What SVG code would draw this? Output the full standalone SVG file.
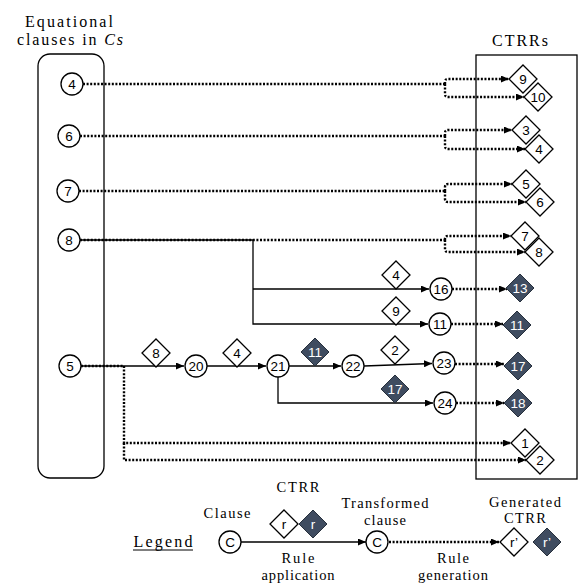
<svg xmlns="http://www.w3.org/2000/svg" width="578" height="586" viewBox="0 0 578 586">
<defs>
<marker id="ah" markerWidth="8" markerHeight="7" refX="8" refY="3.5" orient="auto" markerUnits="userSpaceOnUse">
<path d="M0,0 L8,3.5 L0,7 Z" fill="#000"/>
</marker>
<style>
.d{fill:none;stroke:#000;stroke-width:2.4;stroke-dasharray:2 1.6}
.s{fill:none;stroke:#000;stroke-width:1.3}
.c{fill:#fff;stroke:#000;stroke-width:1.3}
.w{fill:#fff;stroke:#000;stroke-width:1.3}
.k{fill:#3f4c60;stroke:#27303c;stroke-width:1}
.n{font-family:'Liberation Sans',Arial,sans-serif;font-size:13.5px;text-anchor:middle;fill:#000}
.nw{font-family:'Liberation Sans',Arial,sans-serif;font-size:13.5px;text-anchor:middle;fill:#fff}
.t{font-size:16px;text-anchor:middle;fill:#000}
.l{font-size:14.5px;text-anchor:middle;fill:#000}
.box{fill:none;stroke:#000;stroke-width:1.3}
</style>
</defs>
<rect width="578" height="586" fill="#fff"/>

<g id="titles" font-family="Liberation Serif, Times New Roman, serif">
<text class="t" x="69" y="27" textLength="88">Equational</text>
<text class="t" x="70" y="45" textLength="106">clauses in <tspan font-style="italic">Cs</tspan></text>
<text class="t" x="520" y="46" textLength="56">CTRRs</text>
</g>

<g id="box-cs"><rect class="box" x="38" y="54" width="66" height="424" rx="12"/></g>
<g id="box-ctrrs"><rect class="box" x="476" y="55" width="101" height="424"/></g>

<g id="connectors">
<path class="s" d="M80,240 H253 V324 H428" marker-end="url(#ah)"/>
<path class="s" d="M253,289 H429" marker-end="url(#ah)"/>
<path class="s" d="M81,366 H184" marker-end="url(#ah)"/>
<path class="s" d="M207,366 H266" marker-end="url(#ah)"/>
<path class="s" d="M289,366 H341" marker-end="url(#ah)"/>
<path class="s" d="M364,366 L432,363.5" marker-end="url(#ah)"/>
<path class="s" d="M278,377 V403 H433" marker-end="url(#ah)"/>
<path class="d" d="M83,84 H445"/>
<path class="d" d="M445,84 V82 Q445,79 448,79 H509" marker-end="url(#ah)"/>
<path class="d" d="M445,84 V94 Q445,97 448,97 H524" marker-end="url(#ah)"/>
<path class="d" d="M80,136 H445"/>
<path class="d" d="M445,136 V133 Q445,130 448,130 H512" marker-end="url(#ah)"/>
<path class="d" d="M445,136 V146 Q445,149 448,149 H525" marker-end="url(#ah)"/>
<path class="d" d="M79,191 H445"/>
<path class="d" d="M445,191 V187 Q445,184 448,184 H512" marker-end="url(#ah)"/>
<path class="d" d="M445,191 V199 Q445,202 448,202 H526" marker-end="url(#ah)"/>
<path class="d" d="M80,240 H445"/>
<path class="d" d="M445,240 V239 Q445,236 448,236 H511" marker-end="url(#ah)"/>
<path class="d" d="M445,240 V249 Q445,252 448,252 H525" marker-end="url(#ah)"/>
<path class="d" d="M81,366 H124"/>
<path class="d" d="M124,366 V443 H511" marker-end="url(#ah)"/>
<path class="d" d="M124,443 V460 H526" marker-end="url(#ah)"/>
<path class="d" d="M452,289 H507" marker-end="url(#ah)"/>
<path class="d" d="M451,324 H503" marker-end="url(#ah)"/>
<path class="d" d="M455,364 H504" marker-end="url(#ah)"/>
<path class="d" d="M456,403 H504" marker-end="url(#ah)"/>
<path class="s" d="M241,542 H366" marker-end="url(#ah)"/>
<path class="d" d="M389,542 H499" marker-end="url(#ah)"/>
</g>

<g id="c4"><circle class="c" cx="72" cy="84" r="11"/><text class="n" x="72" y="88.5">4</text></g>
<g id="c6"><circle class="c" cx="69" cy="136" r="11"/><text class="n" x="69" y="140.5">6</text></g>
<g id="c7"><circle class="c" cx="68" cy="191" r="11"/><text class="n" x="68" y="195.5">7</text></g>
<g id="c8"><circle class="c" cx="69" cy="240" r="11"/><text class="n" x="69" y="244.5">8</text></g>
<g id="c5"><circle class="c" cx="70" cy="366" r="11"/><text class="n" x="70" y="370.5">5</text></g>
<g id="c20"><circle class="c" cx="196" cy="366" r="11"/><text class="n" x="196" y="370.5">20</text></g>
<g id="c21"><circle class="c" cx="278" cy="366" r="11"/><text class="n" x="278" y="370.5">21</text></g>
<g id="c22"><circle class="c" cx="353" cy="366" r="11"/><text class="n" x="353" y="370.5">22</text></g>
<g id="c16"><circle class="c" cx="441" cy="289" r="11"/><text class="n" x="441" y="293.5">16</text></g>
<g id="c11"><circle class="c" cx="440" cy="324" r="11"/><text class="n" x="440" y="328.5">11</text></g>
<g id="c23"><circle class="c" cx="444" cy="363" r="11"/><text class="n" x="444" y="367.5">23</text></g>
<g id="c24"><circle class="c" cx="445" cy="403" r="11"/><text class="n" x="445" y="407.5">24</text></g>

<g id="r9"><path class="w" d="M523,65 L537,79 L523,93 L509,79 Z"/><text class="n" x="523" y="83.5">9</text></g>
<g id="r10"><path class="w" d="M538,83 L552,97 L538,111 L524,97 Z"/><text class="n" x="538" y="101.5">10</text></g>
<g id="r3"><path class="w" d="M526,116 L540,130 L526,144 L512,130 Z"/><text class="n" x="526" y="134.5">3</text></g>
<g id="r4b"><path class="w" d="M539,135 L553,149 L539,163 L525,149 Z"/><text class="n" x="539" y="153.5">4</text></g>
<g id="r5"><path class="w" d="M526,170 L540,184 L526,198 L512,184 Z"/><text class="n" x="526" y="188.5">5</text></g>
<g id="r6"><path class="w" d="M540,188 L554,202 L540,216 L526,202 Z"/><text class="n" x="540" y="206.5">6</text></g>
<g id="r7"><path class="w" d="M525,222 L539,236 L525,250 L511,236 Z"/><text class="n" x="525" y="240.5">7</text></g>
<g id="r8b"><path class="w" d="M539,238 L553,252 L539,266 L525,252 Z"/><text class="n" x="539" y="256.5">8</text></g>
<g id="r1"><path class="w" d="M525,429 L539,443 L525,457 L511,443 Z"/><text class="n" x="525" y="447.5">1</text></g>
<g id="r2b"><path class="w" d="M540,446 L554,460 L540,474 L526,460 Z"/><text class="n" x="540" y="464.5">2</text></g>

<g id="a8"><path class="w" d="M156,339 L170,353 L156,367 L142,353 Z"/><text class="n" x="156" y="357.5">8</text></g>
<g id="a4"><path class="w" d="M237,339 L251,353 L237,367 L223,353 Z"/><text class="n" x="237" y="357.5">4</text></g>
<g id="a11"><path class="k" d="M315,338 L329,352 L315,366 L301,352 Z"/><text class="nw" x="315" y="356.5">11</text></g>
<g id="a2"><path class="w" d="M395,336 L409,350 L395,364 L381,350 Z"/><text class="n" x="395" y="354.5">2</text></g>
<g id="a17"><path class="k" d="M395,375 L409,389 L395,403 L381,389 Z"/><text class="nw" x="395" y="393.5">17</text></g>
<g id="a4b"><path class="w" d="M396,261 L410,275 L396,289 L382,275 Z"/><text class="n" x="396" y="279.5">4</text></g>
<g id="a9"><path class="w" d="M396,297 L410,311 L396,325 L382,311 Z"/><text class="n" x="396" y="315.5">9</text></g>

<g id="g13"><path class="k" d="M520,274 L534,288 L520,302 L506,288 Z"/><text class="nw" x="520" y="292.5">13</text></g>
<g id="g11"><path class="k" d="M517,311 L531,325 L517,339 L503,325 Z"/><text class="nw" x="517" y="329.5">11</text></g>
<g id="g17"><path class="k" d="M518,352 L532,366 L518,380 L504,366 Z"/><text class="nw" x="518" y="370.5">17</text></g>
<g id="g18"><path class="k" d="M518,389 L532,403 L518,417 L504,403 Z"/><text class="nw" x="518" y="407.5">18</text></g>

<g id="legend" font-family="Liberation Serif, Times New Roman, serif">
<text class="t" x="163" y="547" textLength="59">Legend</text>
<line x1="133" y1="550" x2="193" y2="550" stroke="#000" stroke-width="1"/>
<text class="l" x="227" y="518" textLength="47">Clause</text>
<text class="l" x="298" y="492" textLength="43">CTRR</text>
<text class="l" x="385" y="508" textLength="87">Transformed</text>
<text class="l" x="385" y="525" textLength="42">clause</text>
<text class="l" x="525" y="507" textLength="72">Generated</text>
<text class="l" x="525" y="523" textLength="42">CTRR</text>
<text class="l" x="298" y="563" textLength="33">Rule</text>
<text class="l" x="298" y="580" textLength="73">application</text>
<text class="l" x="453" y="563" textLength="32">Rule</text>
<text class="l" x="453" y="580" textLength="70">generation</text>
</g>
<g id="lg-c1"><circle class="c" cx="230" cy="542" r="11"/><text class="n" x="230" y="546.5">C</text></g>
<g id="lg-c2"><circle class="c" cx="377" cy="542" r="11"/><text class="n" x="377" y="546.5">C</text></g>
<g id="lg-r"><path class="w" d="M284,510 L298,524 L284,538 L270,524 Z"/><text class="n" x="284" y="528.5">r</text></g>
<g id="lg-rk"><path class="k" d="M313,510 L327,524 L313,538 L299,524 Z"/><text class="nw" x="313" y="528.5">r</text></g>
<g id="lg-r2"><path class="w" d="M514,528 L528,542 L514,556 L500,542 Z"/><text class="n" x="514" y="546.5">r’</text></g>
<g id="lg-rk2"><path class="k" d="M547,528 L561,542 L547,556 L533,542 Z"/><text class="nw" x="547" y="546.5">r’</text></g>
</svg>
